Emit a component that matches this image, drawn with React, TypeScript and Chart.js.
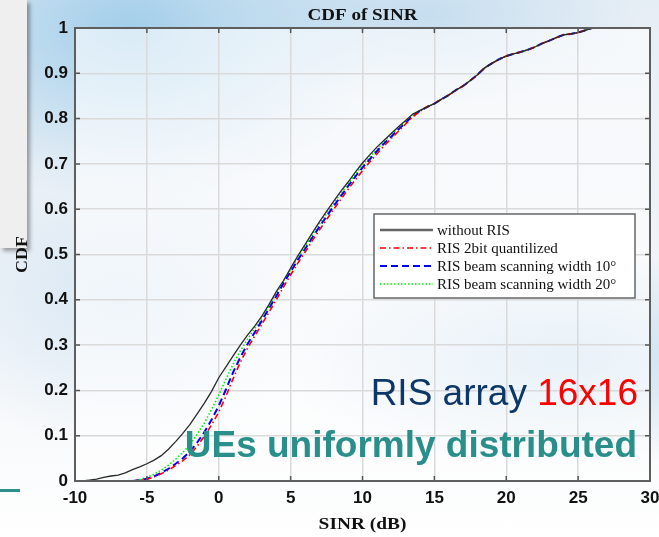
import React, { useEffect, useRef } from "react";
import { Chart, registerables } from "chart.js";

Chart.register(...registerables);

// ---------- data ----------
const sinrDb = [
  -10, -9.5, -9, -8.5, -8, -7.5, -7, -6.5, -6, -5.5,
  -5, -4.5, -4, -3.5, -3, -2.5, -2, -1.5, -1, -0.5,
  0, 0.5, 1, 1.5, 2, 2.5, 3, 3.5, 4, 4.5,
  5, 5.5, 6, 6.5, 7, 7.5, 8, 8.5, 9, 9.5,
  10, 10.5, 11, 11.5, 12, 12.5, 13, 13.5, 14,
  14.5, 15, 15.5, 16, 16.5, 17, 17.5, 18, 18.5, 19, 19.5,
  20, 20.5, 21, 21.5, 22, 22.5, 23, 23.5, 24, 24.5, 25, 25.5, 26,
];

// common upper tail (14.5 .. 26 dB), where all curves coincide
const cdfTail = [
  0.826, 0.833, 0.843, 0.852, 0.863, 0.872, 0.884, 0.897, 0.912, 0.922, 0.931,
  0.938, 0.943, 0.947, 0.952, 0.958, 0.966, 0.972, 0.979, 0.985, 0.987, 0.99, 0.995, 1.0,
];

const cdfWithoutRis = [
  0, 0, 0.002, 0.004, 0.008, 0.011, 0.013, 0.018, 0.025, 0.031,
  0.038, 0.046, 0.056, 0.07, 0.087, 0.105, 0.125, 0.148, 0.172, 0.198,
  0.228, 0.252, 0.276, 0.3, 0.322, 0.342, 0.364, 0.39, 0.418, 0.442,
  0.47, 0.497, 0.522, 0.547, 0.572, 0.595, 0.618, 0.64, 0.66, 0.682,
  0.702, 0.72, 0.737, 0.752, 0.767, 0.782, 0.796, 0.81, 0.818,
  ...cdfTail,
];

const cdfRis2bit = [
  null, null, null, null, null, null, null, null,
  0, 0.002, 0.004, 0.009, 0.016, 0.024, 0.034, 0.045, 0.058, 0.077, 0.099, 0.124,
  0.152, 0.187, 0.226, 0.262, 0.293, 0.32, 0.346, 0.373, 0.4, 0.428,
  0.455, 0.481, 0.505, 0.53, 0.554, 0.577, 0.6, 0.622, 0.644, 0.665,
  0.685, 0.704, 0.722, 0.74, 0.756, 0.772, 0.788, 0.804, 0.816,
  ...cdfTail,
];

const cdfBeam10 = [
  null, null, null, null, null, null, null, null,
  0, 0.002, 0.005, 0.01, 0.018, 0.027, 0.038, 0.05, 0.065, 0.085, 0.108, 0.135,
  0.166, 0.202, 0.24, 0.273, 0.302, 0.328, 0.354, 0.381, 0.408, 0.436,
  0.462, 0.488, 0.512, 0.537, 0.561, 0.584, 0.607, 0.629, 0.651, 0.672,
  0.692, 0.71, 0.728, 0.745, 0.76, 0.776, 0.791, 0.806, 0.817,
  ...cdfTail,
];

const cdfBeam20 = [
  null, null, null, null, null, null, null, null,
  0, 0.003, 0.008, 0.015, 0.024, 0.035, 0.048, 0.063, 0.08, 0.103, 0.128, 0.158,
  0.19, 0.225, 0.258, 0.287, 0.313, 0.337, 0.36, 0.387, 0.414, 0.441,
  0.467, 0.493, 0.518, 0.543, 0.567, 0.59, 0.613, 0.635, 0.656, 0.677,
  0.697, 0.715, 0.732, 0.749, 0.764, 0.779, 0.794, 0.808, 0.818,
  ...cdfTail,
];

const seriesLabels = [
  "without RIS",
  "RIS 2bit quantilized",
  "RIS beam scanning width 10°",
  "RIS beam scanning width 20°",
];

const xTickValues = [-10, -5, 0, 5, 10, 15, 20, 25, 30];
const xTickLabels = ["-10", "-5", "0", "5", "10", "15", "20", "25", "30"];
const yTickValues = [0, 0.1, 0.2, 0.3, 0.4, 0.5, 0.6, 0.7, 0.8, 0.9, 1];
const yTickLabels = ["0", "0.1", "0.2", "0.3", "0.4", "0.5", "0.6", "0.7", "0.8", "0.9", "1"];

const chartTitle = "CDF of SINR";
const xTitle = "SINR (dB)";
const yTitle = "CDF";
const noteArray = "RIS array ";
const noteSize = "16x16";
const noteUEs = "UEs uniformly distributed";

// ---------- helpers ----------
function toPoints(ys: (number | null)[]) {
  const pts: { x: number; y: number }[] = [];
  ys.forEach((v, i) => {
    if (v !== null && v !== undefined) pts.push({ x: sinrDb[i], y: v });
  });
  return pts;
}

const SANS = "'Liberation Sans', Arial, sans-serif";
const SERIF = "'Liberation Serif', 'Times New Roman', serif";

function stretchedText(ctx: any, text: string, x: number, y: number, sx: number) {
  ctx.save();
  ctx.translate(x, y);
  ctx.scale(sx, 1);
  ctx.fillText(text, 0, 0);
  ctx.restore();
}

const decorPlugin = {
  id: "decor",
  beforeDraw(chart: any) {
    const { ctx, chartArea: a } = chart;
    ctx.save();
    ctx.fillStyle = "rgba(255,255,255,0.6)";
    ctx.fillRect(a.left, a.top, a.right - a.left, a.bottom - a.top);
    ctx.restore();
  },
  afterDatasetsDraw(chart: any) {
    const { ctx, chartArea: a } = chart;
    const xs = chart.scales.x;
    const ys = chart.scales.y;
    ctx.save();

    // inner tick marks
    ctx.strokeStyle = "#555";
    ctx.lineWidth = 1.5;
    ctx.beginPath();
    xTickValues.forEach((v) => {
      const px = xs.getPixelForValue(v);
      ctx.moveTo(px, a.top);
      ctx.lineTo(px, a.top + 5);
      ctx.moveTo(px, a.bottom);
      ctx.lineTo(px, a.bottom - 5);
    });
    yTickValues.forEach((v) => {
      const py = ys.getPixelForValue(v);
      ctx.moveTo(a.left, py);
      ctx.lineTo(a.left + 5, py);
      ctx.moveTo(a.right, py);
      ctx.lineTo(a.right - 5, py);
    });
    ctx.stroke();

    // axes box
    ctx.strokeStyle = "#5e5e5e";
    ctx.lineWidth = 2;
    ctx.strokeRect(a.left, a.top, a.right - a.left, a.bottom - a.top);

    // legend
    const lx = 374, ly = 214, lw = 261, lh = 84;
    ctx.fillStyle = "#ffffff";
    ctx.fillRect(lx, ly, lw, lh);
    ctx.strokeStyle = "#666";
    ctx.lineWidth = 1.5;
    ctx.strokeRect(lx, ly, lw, lh);
    ctx.font = `15px ${SERIF}`;
    ctx.textBaseline = "middle";
    ctx.textAlign = "left";
    chart.data.datasets.forEach((ds: any, i: number) => {
      const cy = ly + 16 + i * 18;
      ctx.save();
      ctx.strokeStyle = i === 0 ? "#666" : ds.borderColor;
      ctx.lineWidth = i === 0 ? 2.5 : ds.borderWidth;
      ctx.setLineDash(ds.borderDash || []);
      ctx.beginPath();
      ctx.moveTo(lx + 6, cy);
      ctx.lineTo(lx + 59, cy);
      ctx.stroke();
      ctx.restore();
      ctx.fillStyle = "#111";
      ctx.fillText(ds.label, lx + 63, cy + 1);
    });

    // annotations
    ctx.textBaseline = "alphabetic";
    ctx.textAlign = "right";
    ctx.font = `37px ${SANS}`;
    const wSize = ctx.measureText(noteSize).width;
    ctx.fillStyle = "#ff0000";
    ctx.fillText(noteSize, 638, 405);
    ctx.fillStyle = "#0d3766";
    ctx.fillText(noteArray, 638 - wSize, 405);
    ctx.font = `bold 37px ${SANS}`;
    ctx.fillStyle = "#2a8f8a";
    ctx.fillText(noteUEs, 637, 457);

    // titles
    const cx = (a.left + a.right) / 2;
    ctx.fillStyle = "#111";
    ctx.textAlign = "center";
    ctx.textBaseline = "middle";
    ctx.font = `bold 17px ${SERIF}`;
    stretchedText(ctx, chartTitle, cx, 16, 1.12);
    stretchedText(ctx, xTitle, cx, 525, 1.14);
    ctx.save();
    ctx.translate(23, (a.top + a.bottom) / 2);
    ctx.rotate(-Math.PI / 2);
    ctx.font = `bold 16px ${SERIF}`;
    stretchedText(ctx, yTitle, 0, 0, 1.12);
    ctx.restore();

    ctx.restore();
  },
};

export default function App() {
  const canvasRef = useRef<HTMLCanvasElement | null>(null);

  useEffect(() => {
    if (!canvasRef.current) return;
    const common = { pointRadius: 0, fill: false, tension: 0 };
    const chart = new Chart(canvasRef.current, {
      type: "line",
      data: {
        datasets: [
          {
            ...common,
            label: seriesLabels[0],
            data: toPoints(cdfWithoutRis),
            borderColor: "#2a2a2a",
            borderWidth: 1.3,
          },
          {
            ...common,
            label: seriesLabels[1],
            data: toPoints(cdfRis2bit),
            borderColor: "#ff0000",
            borderWidth: 1.6,
            borderDash: [6, 3, 1.5, 3],
          },
          {
            ...common,
            label: seriesLabels[2],
            data: toPoints(cdfBeam10),
            borderColor: "#0000ff",
            borderWidth: 2,
            borderDash: [7, 4],
          },
          {
            ...common,
            label: seriesLabels[3],
            data: toPoints(cdfBeam20),
            borderColor: "#00ee00",
            borderWidth: 1.6,
            borderDash: [1.5, 2],
          },
        ],
      } as any,
      options: {
        animation: false,
        responsive: false,
        devicePixelRatio: 1,
        layout: { padding: { top: 28, right: 9, left: 0, bottom: 0 } },
        plugins: {
          legend: { display: false },
          title: { display: false },
          tooltip: { enabled: false },
        },
        scales: {
          x: {
            type: "linear",
            min: -10,
            max: 30,
            afterFit: (s: any) => {
              s.height = 56;
              s.paddingLeft = 0;
              s.paddingRight = 0;
            },
            afterBuildTicks: (s: any) => {
              s.ticks = xTickValues.map((v) => ({ value: v }));
            },
            ticks: {
              padding: 7,
              maxRotation: 0,
              color: "#111",
              font: { family: SANS, size: 17, weight: "bold" },
              callback: (_v: any, i: number) => xTickLabels[i],
            },
            grid: { color: "#dadada", lineWidth: 1.5, drawTicks: false },
            border: { display: false },
          },
          y: {
            type: "linear",
            min: 0,
            max: 1,
            afterFit: (s: any) => {
              s.width = 75;
              s.paddingTop = 0;
              s.paddingBottom = 0;
            },
            afterBuildTicks: (s: any) => {
              s.ticks = yTickValues.map((v) => ({ value: v }));
            },
            ticks: {
              padding: 7,
              color: "#111",
              font: { family: SANS, size: 17, weight: "bold" },
              callback: (_v: any, i: number) => yTickLabels[i],
            },
            grid: { color: "#dadada", lineWidth: 1.5, drawTicks: false },
            border: { display: false },
          },
        },
      } as any,
      plugins: [decorPlugin],
    });
    return () => chart.destroy();
  }, []);

  const bg = [
    "radial-gradient(ellipse 260px 170px at 130px 30px, rgba(150,200,232,0.85), rgba(150,200,232,0) 100%)",
    "radial-gradient(ellipse 220px 90px at 420px 15px, rgba(175,210,235,0.6), rgba(175,210,235,0) 100%)",
    "radial-gradient(ellipse 280px 110px at 560px 360px, rgba(160,200,230,0.55), rgba(160,200,230,0) 100%)",
    "radial-gradient(ellipse 200px 150px at 120px 300px, rgba(185,215,238,0.45), rgba(185,215,238,0) 100%)",
    "linear-gradient(180deg, #e6eef5 0%, #f1f4f8 55%, #fbfcfd 90%, #ffffff 100%)",
  ].join(", ");

  return (
    <div
      style={{
        position: "absolute",
        left: 0,
        top: 0,
        width: 659,
        height: 537,
        overflow: "hidden",
        background: bg,
      }}
    >
      <div
        style={{
          position: "absolute",
          left: 0,
          top: 0,
          width: 27,
          height: 248,
          background: "#efefef",
          boxShadow: "3px 3px 4px rgba(0,0,0,0.35)",
        }}
      />
      <div
        style={{
          position: "absolute",
          left: 0,
          top: 489,
          width: 20,
          height: 3,
          background: "#2b8f8b",
        }}
      />
      <canvas
        ref={canvasRef}
        width={659}
        height={537}
        style={{ position: "absolute", left: 0, top: 0, width: 659, height: 537 }}
      />
    </div>
  );
}
